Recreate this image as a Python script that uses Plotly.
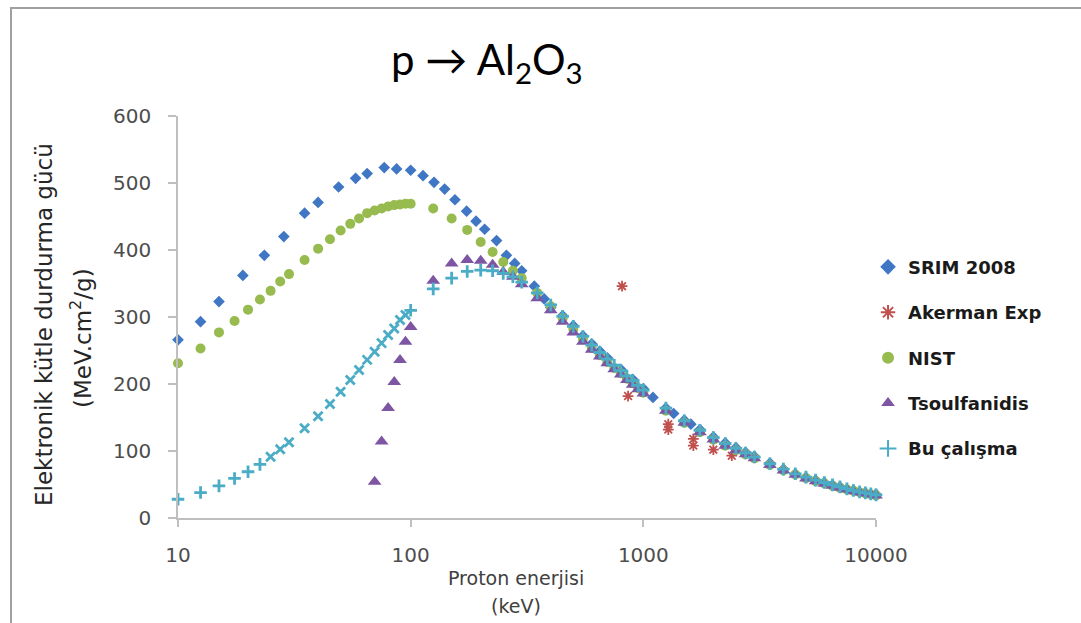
import plotly.graph_objects as go

# ---------------- data ----------------
srim_E = [10, 12.5, 15, 19, 23.5, 28.5, 35, 40, 49, 58, 65, 77, 87, 100, 113, 126, 140, 155, 174, 191,
          208, 234, 258, 280, 300, 340, 375, 400, 450, 500, 550, 600, 650, 700, 800, 900, 1000, 1100, 1250, 1350,
          1500, 1600, 1750, 2000, 2250, 2500, 2750, 3000, 3500, 4000, 4500, 5000, 5500, 6000, 6500, 7000, 8000, 9000, 10000]
srim_V = [266, 293, 323, 362, 392, 420, 455, 471, 494, 507, 514, 523, 521, 519, 511, 501, 491, 475, 458, 443,
          431, 414, 392, 380, 369, 346, 327, 314, 302, 287, 272, 260, 249, 239, 222, 207, 193, 180, 164, 156,
          146, 140, 132, 121, 112, 105, 98, 92, 82, 73, 66, 61, 56.5, 53, 49.5, 46.5, 41.5, 38, 35.5]

akerman_E = [810, 860, 1280, 1280, 1640, 1640, 2000, 2400]
akerman_V = [346, 182, 140, 132, 118, 108, 102, 93]

nist_E = [10, 12.5, 15, 17.5, 20, 22.5, 25, 27.5, 30, 35, 40, 45, 50, 55, 60, 65, 70, 75, 80, 85, 90, 95, 100,
          125, 150, 175, 200, 225, 250, 275, 300, 350, 400, 450, 500, 550, 600, 650, 700, 750, 800, 850, 900, 950, 1000,
          1250, 1500, 1750, 2000, 2250, 2500, 2750, 3000, 3500, 4000, 4500, 5000, 5500, 6000, 6500, 7000, 7500, 8000,
          8500, 9000, 9500, 10000]
nist_V = [231, 253, 277, 294, 311, 326, 339, 353, 364, 385, 402, 416, 429, 439, 447, 455, 459, 462, 465, 467, 468, 469, 469,
          462, 447, 430, 412, 397, 382, 369, 358, 336, 316, 298, 282, 267, 254, 243, 233, 224, 216, 208, 201, 194, 187,
          160, 142, 128, 117, 108, 101, 95, 89, 79, 71, 65, 59.5, 55, 51.5, 48, 45, 42.5, 40.5,
          38.5, 36.5, 35, 33.5]

tsoul_E = [70, 75, 80, 85, 90, 95, 100, 125, 150, 175, 200, 225, 250, 275, 300,
           350, 400, 450, 500, 550, 600, 650, 700, 750, 800, 850, 900, 950, 1000,
           1250, 1500, 1750, 2000, 2250, 2500, 2750, 3000, 3500, 4000, 4500, 5000, 5500, 6000, 6500, 7000, 7500, 8000,
           8500, 9000, 9500, 10000]
tsoul_V = [54, 114, 164, 203, 236, 263, 285, 354, 380, 385, 384, 378, 367, 360, 349,
           328, 310, 293, 277, 263, 251, 241, 231, 222, 214, 206, 199, 192, 186,
           160, 142, 128, 117, 108, 101, 95, 89, 79, 71, 64.5, 59, 55, 51, 48, 45, 42.5, 40,
           38, 36.5, 35, 33.5]

bu_E = nist_E
bu_V = [28, 38, 48, 59, 69, 80, 91.5, 102.5, 113, 134, 152, 170, 188.5, 206, 221, 236, 248, 261, 273, 283, 295.5, 303, 310,
        342, 358, 368, 370, 369, 365, 360, 352, 336, 318, 301, 286, 271, 258, 247, 237, 228, 220, 212, 205, 198, 191,
        164, 145, 131, 120, 111, 104, 97, 91, 81, 73, 66, 61, 56.5, 53, 49.5, 46.5, 43.5, 41,
        39, 37.5, 36, 34.5]

series_names = ["SRIM 2008", "Akerman Exp", "NIST", "Tsoulfanidis", "Bu çalışma"]
x_ticks = [10, 100, 1000, 10000]
x_ticktext = ["10", "100", "1000", "10000"]

# ---------------- figure ----------------
fig = go.Figure()

fig.add_trace(go.Scatter(x=srim_E, y=srim_V, mode="markers", name=series_names[0], legendgroup="a",
                         marker=dict(symbol="diamond", size=9, color="#4077C4"), cliponaxis=False))
fig.add_trace(go.Scatter(x=akerman_E, y=akerman_V, mode="markers", name=series_names[1], legendgroup="b",
                         marker=dict(symbol="asterisk-open", size=9, color="#C0504D",
                                     line=dict(color="#C0504D", width=1.8)), cliponaxis=False))
fig.add_trace(go.Scatter(x=nist_E, y=nist_V, mode="markers", name=series_names[2], legendgroup="c",
                         marker=dict(symbol="circle", size=10, color="#97BB4F"), cliponaxis=False))
fig.add_trace(go.Scatter(x=tsoul_E, y=tsoul_V, mode="markers", name=series_names[3], legendgroup="d",
                         marker=dict(symbol="triangle-up", size=12, color="#7D55A3"), cliponaxis=False))
bu_symbols = ["x-thin-open" if 25 <= e < 100 else "cross-thin-open" for e in bu_E]
fig.add_trace(go.Scatter(x=bu_E, y=bu_V, mode="markers", name=series_names[4], legendgroup="e",
                         marker=dict(symbol=bu_symbols, size=9, color="#4BACC6",
                                     line=dict(color="#4BACC6", width=2.8)), cliponaxis=False))

axis_font = dict(family="DejaVu Sans", size=20, color="#4D4D4D")

fig.update_layout(
    width=1081, height=623,
    margin=dict(l=178, r=205, t=116, b=105),
    paper_bgcolor="white", plot_bgcolor="white",
    showlegend=True,
    legend=dict(x=0.9886, xanchor="left", y=0.670, yanchor="top",
                font=dict(family="DejaVu Sans", size=18, color="#1A1A1A", weight="bold"),
                tracegroupgap=19, bgcolor="rgba(0,0,0,0)", itemsizing="constant"),
    xaxis=dict(type="log", range=[1, 4], tickvals=x_ticks, ticktext=x_ticktext,
               showgrid=False, zeroline=False, showline=True, linecolor="#BFBFBF", linewidth=1.6,
               ticks="outside", ticklen=7, tickcolor="#BFBFBF", tickwidth=1.6,
               tickfont=axis_font, ticklabelstandoff=11),
    yaxis=dict(range=[0, 600], dtick=100, showgrid=False, zeroline=False, showline=True,
               linecolor="#BFBFBF", linewidth=1.6, ticks="outside", ticklen=8,
               tickcolor="#BFBFBF", tickwidth=1.6, tickfont=axis_font, ticklabelstandoff=13),
)

# frame around the chart
fig.add_shape(type="rect", xref="paper", yref="paper",
              x0=(11 - 178) / 698, x1=(1100 - 178) / 698,
              y0=(518 - 640) / 402, y1=(518 - 8) / 402,
              line=dict(color="#A0A0A0", width=2), layer="below")

def px_x(px):
    return (px - 178) / 698

def px_y(py):
    return (518 - py) / 402

# title
fig.add_annotation(text="p → Al<sub>2</sub>O<sub>3</sub>", xref="paper", yref="paper",
                   x=px_x(487), y=px_y(62), showarrow=False, xanchor="center", yanchor="middle",
                   font=dict(family="Lato", size=42, color="#000000"))

# y axis title (two lines)
fig.add_annotation(text="Elektronik kütle durdurma gücü", xref="paper", yref="paper",
                   x=px_x(44), y=px_y(325), showarrow=False, textangle=-90,
                   xanchor="center", yanchor="middle",
                   font=dict(family="DejaVu Sans", size=23, color="#262626"))
fig.add_annotation(text="(MeV.cm<sup>2</sup>/g)", xref="paper", yref="paper",
                   x=px_x(81), y=px_y(338), showarrow=False, textangle=-90,
                   xanchor="center", yanchor="middle",
                   font=dict(family="DejaVu Sans", size=23, color="#262626"))

# x axis title (two lines)
fig.add_annotation(text="Proton enerjisi", xref="paper", yref="paper",
                   x=px_x(516), y=px_y(578), showarrow=False, xanchor="center", yanchor="middle",
                   font=dict(family="DejaVu Sans", size=19, color="#404040"))
fig.add_annotation(text="(keV)", xref="paper", yref="paper",
                   x=px_x(516), y=px_y(606), showarrow=False, xanchor="center", yanchor="middle",
                   font=dict(family="DejaVu Sans", size=19, color="#404040"))

fig.write_html("out.html")
